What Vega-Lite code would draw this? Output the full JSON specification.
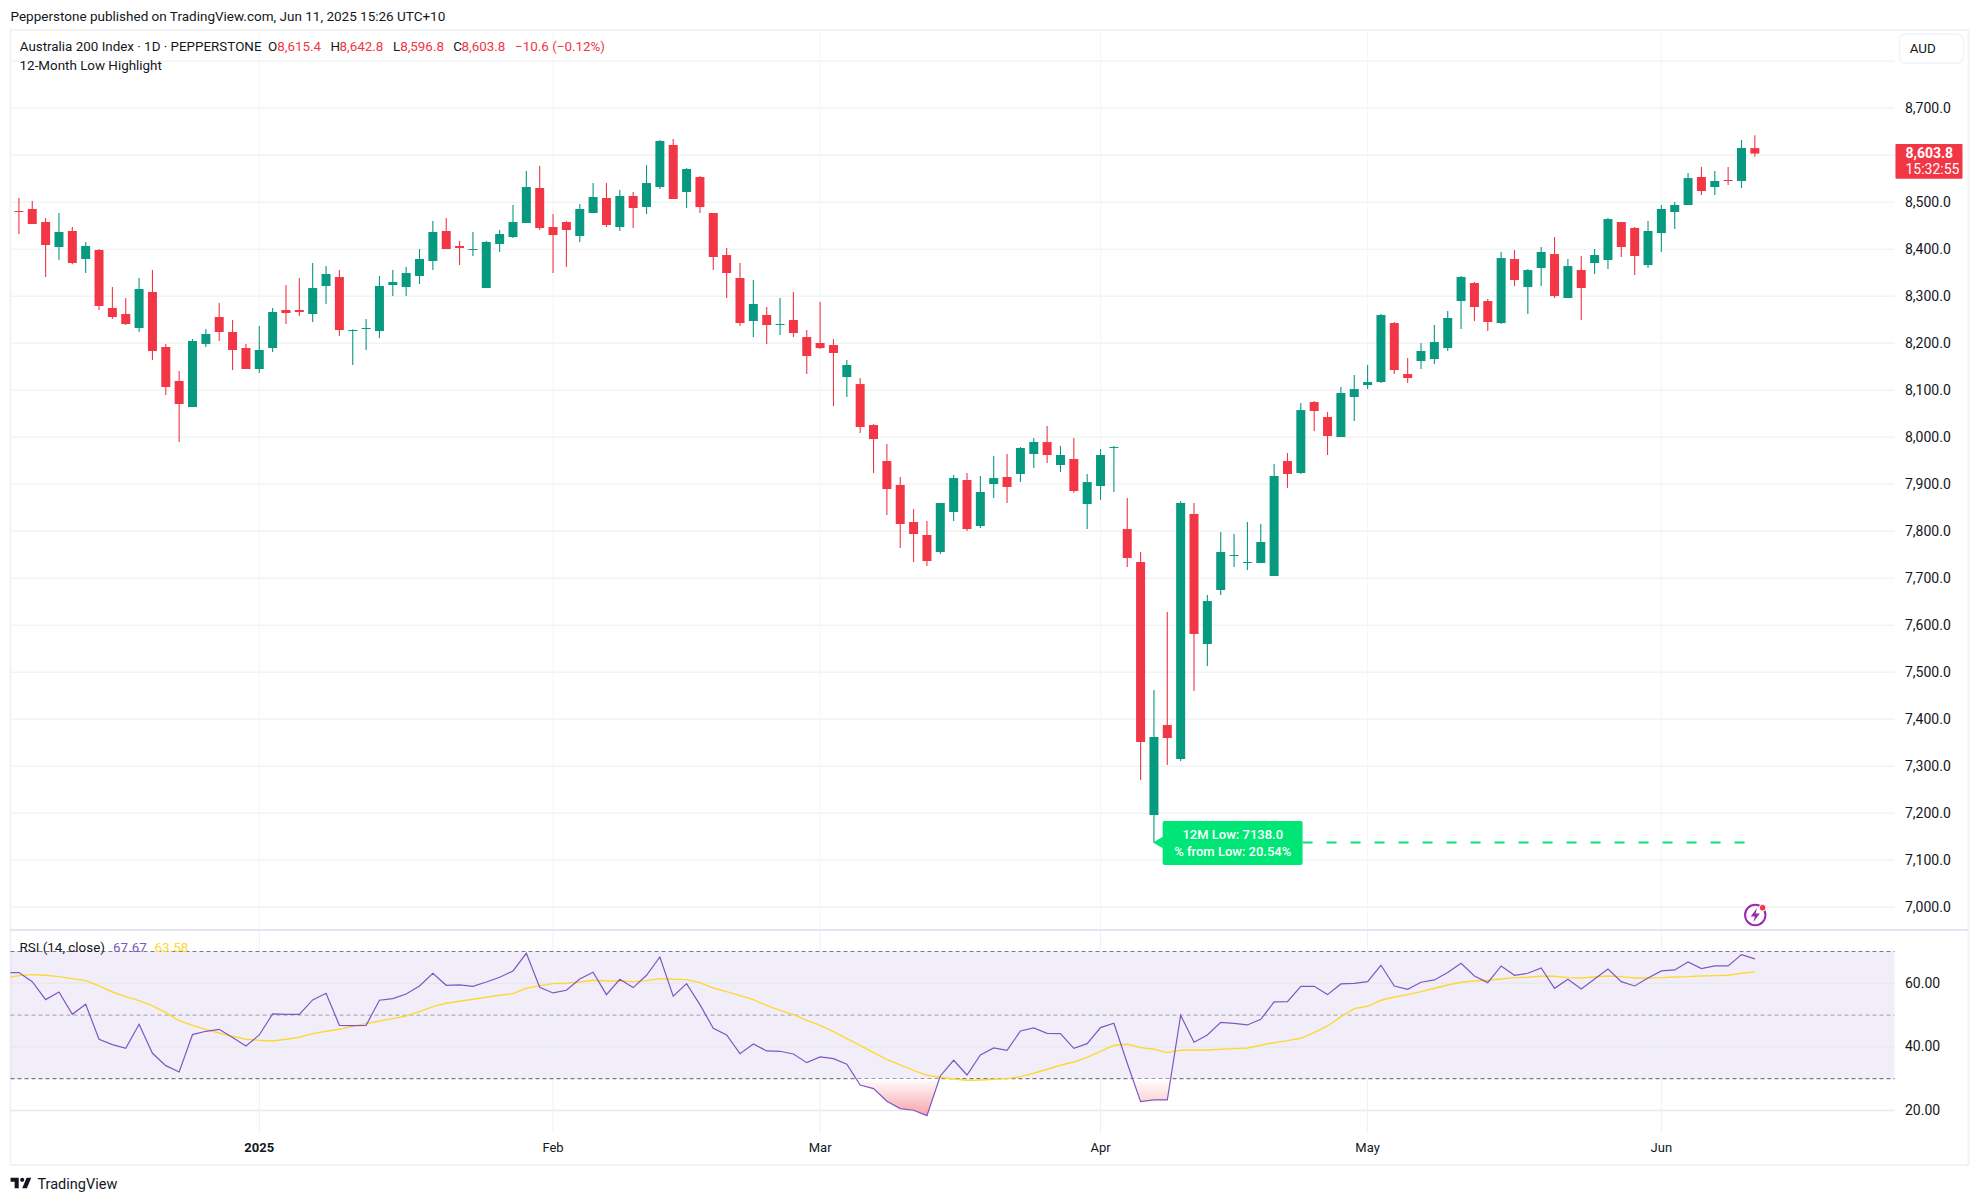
{
  "$schema": "https://vega.github.io/schema/vega-lite/v6.json",
  "background": "#ffffff",
  "padding": {"left": 8.5, "top": 9, "right": 0, "bottom": 0},
  "spacing": 0,
  "bounds": "flush",
  "config": {
    "font": "Roboto",
    "view": {"stroke": "#f2f3f5", "strokeWidth": 2},
    "concat": {"spacing": 0}
  },
  "datasets": {
    "months": [
      {"i": 18, "label": "2025"},
      {"i": 40, "label": "Feb"},
      {"i": 60, "label": "Mar"},
      {"i": 81, "label": "Apr"},
      {"i": 101, "label": "May"},
      {"i": 123, "label": "Jun"}
    ],
    "prices": [
      {"i":0,"o":8481.6,"h":8509.2,"l":8432.6,"c":8479.4,"dir":"down"},
      {"i":1,"o":8485.8,"h":8502.8,"l":8453.9,"c":8453.9,"dir":"down"},
      {"i":2,"o":8458.2,"h":8466.7,"l":8341.1,"c":8409.2,"dir":"down"},
      {"i":3,"o":8405,"h":8477.3,"l":8377.3,"c":8436.9,"dir":"up"},
      {"i":4,"o":8439,"h":8447.5,"l":8368.1,"c":8370.9,"dir":"down"},
      {"i":5,"o":8379.4,"h":8415.6,"l":8349.6,"c":8407.1,"dir":"up"},
      {"i":6,"o":8398.6,"h":8400.7,"l":8270.9,"c":8279.4,"dir":"down"},
      {"i":7,"o":8275.2,"h":8319.9,"l":8251.8,"c":8256,"dir":"down"},
      {"i":8,"o":8262.4,"h":8296.5,"l":8239,"c":8241.1,"dir":"down"},
      {"i":9,"o":8232.6,"h":8339,"l":8224.1,"c":8315.6,"dir":"up"},
      {"i":10,"o":8309.2,"h":8356,"l":8164.5,"c":8183.7,"dir":"down"},
      {"i":11,"o":8192.2,"h":8198.6,"l":8090.1,"c":8107.1,"dir":"down"},
      {"i":12,"o":8119.9,"h":8141.1,"l":7990.1,"c":8070.9,"dir":"down"},
      {"i":13,"o":8064.5,"h":8209.2,"l":8064.5,"c":8205,"dir":"up"},
      {"i":14,"o":8198.6,"h":8230.5,"l":8192.2,"c":8219.9,"dir":"up"},
      {"i":15,"o":8256,"h":8285.8,"l":8205,"c":8224.1,"dir":"down"},
      {"i":16,"o":8224.1,"h":8249.6,"l":8143.3,"c":8185.8,"dir":"down"},
      {"i":17,"o":8190.1,"h":8198.6,"l":8145.4,"c":8145.4,"dir":"down"},
      {"i":18,"o":8145.4,"h":8236.9,"l":8136.9,"c":8185.8,"dir":"up"},
      {"i":19,"o":8190.1,"h":8275.2,"l":8181.6,"c":8266.7,"dir":"up"},
      {"i":20,"o":8270.9,"h":8324.1,"l":8241.1,"c":8264.5,"dir":"down"},
      {"i":21,"o":8270.9,"h":8339,"l":8258.2,"c":8266.7,"dir":"down"},
      {"i":22,"o":8262.4,"h":8370.9,"l":8245.4,"c":8317.7,"dir":"up"},
      {"i":23,"o":8322,"h":8364.5,"l":8283.7,"c":8347.5,"dir":"up"},
      {"i":24,"o":8341.1,"h":8356,"l":8215.6,"c":8228.4,"dir":"down"},
      {"i":25,"o":8226.2,"h":8229.8,"l":8153.9,"c":8228.4,"dir":"up"},
      {"i":26,"o":8230.5,"h":8251.8,"l":8185.8,"c":8232.6,"dir":"up"},
      {"i":27,"o":8226.2,"h":8343.3,"l":8211.3,"c":8322,"dir":"up"},
      {"i":28,"o":8324.1,"h":8356,"l":8300.7,"c":8330.5,"dir":"up"},
      {"i":29,"o":8319.9,"h":8362.4,"l":8300.7,"c":8349.6,"dir":"up"},
      {"i":30,"o":8343.3,"h":8400.7,"l":8326.2,"c":8379.4,"dir":"up"},
      {"i":31,"o":8375.2,"h":8460.3,"l":8356,"c":8436.9,"dir":"up"},
      {"i":32,"o":8439,"h":8466.7,"l":8400.7,"c":8400.7,"dir":"down"},
      {"i":33,"o":8407.1,"h":8417.7,"l":8366.7,"c":8402.8,"dir":"down"},
      {"i":34,"o":8398.6,"h":8436.9,"l":8385.8,"c":8400.7,"dir":"up"},
      {"i":35,"o":8317.7,"h":8417.7,"l":8317.7,"c":8415.6,"dir":"up"},
      {"i":36,"o":8411.4,"h":8441.1,"l":8394.3,"c":8432.6,"dir":"up"},
      {"i":37,"o":8426.2,"h":8494.3,"l":8424.1,"c":8458.2,"dir":"up"},
      {"i":38,"o":8456,"h":8566.7,"l":8456,"c":8532.6,"dir":"up"},
      {"i":39,"o":8530.5,"h":8577.3,"l":8441.1,"c":8445.4,"dir":"down"},
      {"i":40,"o":8447.5,"h":8475.2,"l":8349.6,"c":8430.5,"dir":"down"},
      {"i":41,"o":8458.2,"h":8459.6,"l":8362.4,"c":8441.1,"dir":"down"},
      {"i":42,"o":8428.4,"h":8496.5,"l":8415.6,"c":8485.8,"dir":"up"},
      {"i":43,"o":8477.3,"h":8541.1,"l":8477.3,"c":8511.4,"dir":"up"},
      {"i":44,"o":8509.2,"h":8541.1,"l":8447.5,"c":8451.8,"dir":"down"},
      {"i":45,"o":8447.5,"h":8526.2,"l":8439,"c":8513.5,"dir":"up"},
      {"i":46,"o":8513.5,"h":8522,"l":8445.4,"c":8487.9,"dir":"down"},
      {"i":47,"o":8490.1,"h":8579.4,"l":8475.2,"c":8541.1,"dir":"up"},
      {"i":48,"o":8532.6,"h":8632.6,"l":8528.3,"c":8630.5,"dir":"up"},
      {"i":49,"o":8622,"h":8634.7,"l":8507.1,"c":8507.1,"dir":"down"},
      {"i":50,"o":8522,"h":8573,"l":8487.9,"c":8570.9,"dir":"up"},
      {"i":51,"o":8553.9,"h":8556,"l":8477.3,"c":8490,"dir":"down"},
      {"i":52,"o":8477.3,"h":8477.3,"l":8356,"c":8383.7,"dir":"down"},
      {"i":53,"o":8387.9,"h":8402.8,"l":8296.4,"c":8349.6,"dir":"down"},
      {"i":54,"o":8339,"h":8370.9,"l":8236.8,"c":8243.2,"dir":"down"},
      {"i":55,"o":8247.5,"h":8334.7,"l":8213.4,"c":8283.7,"dir":"up"},
      {"i":56,"o":8260.3,"h":8277.3,"l":8198.6,"c":8239,"dir":"down"},
      {"i":57,"o":8239,"h":8296.4,"l":8217.7,"c":8241.1,"dir":"up"},
      {"i":58,"o":8249.6,"h":8309.2,"l":8213.4,"c":8222,"dir":"down"},
      {"i":59,"o":8213.4,"h":8228.3,"l":8134.7,"c":8173,"dir":"down"},
      {"i":60,"o":8200.7,"h":8287.9,"l":8187.9,"c":8190,"dir":"down"},
      {"i":61,"o":8196.4,"h":8209.2,"l":8066.6,"c":8179.4,"dir":"down"},
      {"i":62,"o":8128.3,"h":8164.5,"l":8085.8,"c":8153.9,"dir":"up"},
      {"i":63,"o":8113.4,"h":8126.2,"l":8009.2,"c":8022,"dir":"down"},
      {"i":64,"o":8026.2,"h":8028.3,"l":7924.1,"c":7996.4,"dir":"down"},
      {"i":65,"o":7949.6,"h":7985.8,"l":7834.7,"c":7890,"dir":"down"},
      {"i":66,"o":7898.6,"h":7915.6,"l":7764.5,"c":7815.6,"dir":"down"},
      {"i":67,"o":7819.8,"h":7847.5,"l":7734.7,"c":7794.3,"dir":"down"},
      {"i":68,"o":7792.2,"h":7822,"l":7726.2,"c":7736.8,"dir":"down"},
      {"i":69,"o":7756,"h":7860.3,"l":7751.8,"c":7860.3,"dir":"up"},
      {"i":70,"o":7841.1,"h":7919.8,"l":7822,"c":7913.4,"dir":"up"},
      {"i":71,"o":7909.2,"h":7924.1,"l":7800.7,"c":7804.9,"dir":"down"},
      {"i":72,"o":7811.3,"h":7917.7,"l":7807.1,"c":7883.7,"dir":"up"},
      {"i":73,"o":7900.7,"h":7960.3,"l":7870.9,"c":7913.4,"dir":"up"},
      {"i":74,"o":7915.6,"h":7964.5,"l":7860.3,"c":7894.3,"dir":"down"},
      {"i":75,"o":7922,"h":7979.4,"l":7904.9,"c":7977.3,"dir":"up"},
      {"i":76,"o":7964.5,"h":7998.6,"l":7934.7,"c":7990,"dir":"up"},
      {"i":77,"o":7990,"h":8024.1,"l":7945.4,"c":7962.4,"dir":"down"},
      {"i":78,"o":7941.1,"h":7981.5,"l":7926.2,"c":7962.4,"dir":"up"},
      {"i":79,"o":7953.9,"h":7998.6,"l":7881.5,"c":7885.8,"dir":"down"},
      {"i":80,"o":7858.1,"h":7922,"l":7804.9,"c":7904.9,"dir":"up"},
      {"i":81,"o":7896.4,"h":7975.1,"l":7866.6,"c":7962.4,"dir":"up"},
      {"i":82,"o":7977.3,"h":7981.5,"l":7883.7,"c":7979.4,"dir":"up"},
      {"i":83,"o":7804.9,"h":7870.9,"l":7724.1,"c":7743.2,"dir":"down"},
      {"i":84,"o":7734.7,"h":7756,"l":7270.9,"c":7351.7,"dir":"down"},
      {"i":85,"o":7196.4,"h":7462.4,"l":7138,"c":7362.4,"dir":"up"},
      {"i":86,"o":7387.9,"h":7628.3,"l":7302.8,"c":7360.3,"dir":"down"},
      {"i":87,"o":7315.6,"h":7864.5,"l":7311.3,"c":7860.3,"dir":"up"},
      {"i":88,"o":7836.9,"h":7860.3,"l":7460.3,"c":7581.5,"dir":"down"},
      {"i":89,"o":7560.3,"h":7664.5,"l":7513.4,"c":7651.7,"dir":"up"},
      {"i":90,"o":7675.2,"h":7798.6,"l":7664.5,"c":7756,"dir":"up"},
      {"i":91,"o":7747.5,"h":7794.3,"l":7724.1,"c":7749.6,"dir":"up"},
      {"i":92,"o":7732.6,"h":7819.8,"l":7717.7,"c":7734.7,"dir":"up"},
      {"i":93,"o":7732.6,"h":7815.6,"l":7732.6,"c":7777.3,"dir":"up"},
      {"i":94,"o":7704.9,"h":7943.2,"l":7704.9,"c":7917.7,"dir":"up"},
      {"i":95,"o":7949.6,"h":7966.6,"l":7892.2,"c":7922,"dir":"down"},
      {"i":96,"o":7924.1,"h":8073,"l":7922,"c":8058.1,"dir":"up"},
      {"i":97,"o":8075.1,"h":8077.3,"l":8013.4,"c":8056,"dir":"down"},
      {"i":98,"o":8043.2,"h":8053.9,"l":7962.4,"c":8002.8,"dir":"down"},
      {"i":99,"o":8000.7,"h":8107.1,"l":8000.7,"c":8094.3,"dir":"up"},
      {"i":100,"o":8085.8,"h":8132.6,"l":8034.7,"c":8102.8,"dir":"up"},
      {"i":101,"o":8111.3,"h":8153.9,"l":8102.8,"c":8117.7,"dir":"up"},
      {"i":102,"o":8117.7,"h":8262.4,"l":8115.6,"c":8260.3,"dir":"up"},
      {"i":103,"o":8243.2,"h":8245.4,"l":8134.7,"c":8143.2,"dir":"down"},
      {"i":104,"o":8134.7,"h":8168.8,"l":8115.6,"c":8126.2,"dir":"down"},
      {"i":105,"o":8162.4,"h":8200.7,"l":8145.4,"c":8183.7,"dir":"up"},
      {"i":106,"o":8166.7,"h":8239,"l":8156,"c":8202.8,"dir":"up"},
      {"i":107,"o":8190,"h":8268.8,"l":8183.7,"c":8253.9,"dir":"up"},
      {"i":108,"o":8290,"h":8343.2,"l":8230.5,"c":8341.1,"dir":"up"},
      {"i":109,"o":8328.3,"h":8330.5,"l":8247.5,"c":8277.3,"dir":"down"},
      {"i":110,"o":8290,"h":8294.3,"l":8226.2,"c":8245.4,"dir":"down"},
      {"i":111,"o":8243.2,"h":8394.3,"l":8241.1,"c":8381.5,"dir":"up"},
      {"i":112,"o":8379.4,"h":8398.6,"l":8322,"c":8334.7,"dir":"down"},
      {"i":113,"o":8319.8,"h":8358.1,"l":8262.4,"c":8356,"dir":"up"},
      {"i":114,"o":8360.3,"h":8404.9,"l":8322,"c":8394.3,"dir":"up"},
      {"i":115,"o":8390,"h":8426.2,"l":8296.4,"c":8300.7,"dir":"down"},
      {"i":116,"o":8296.4,"h":8379.4,"l":8296.4,"c":8364.5,"dir":"up"},
      {"i":117,"o":8356,"h":8385.8,"l":8249.6,"c":8317.7,"dir":"down"},
      {"i":118,"o":8370.9,"h":8400.7,"l":8347.5,"c":8387.9,"dir":"up"},
      {"i":119,"o":8377.3,"h":8466.6,"l":8358.1,"c":8464.5,"dir":"up"},
      {"i":120,"o":8458.1,"h":8458.1,"l":8383.7,"c":8404.9,"dir":"down"},
      {"i":121,"o":8445.4,"h":8447.5,"l":8345.4,"c":8385.8,"dir":"down"},
      {"i":122,"o":8366.6,"h":8460.3,"l":8360.3,"c":8439,"dir":"up"},
      {"i":123,"o":8434.7,"h":8494.3,"l":8394.3,"c":8485.8,"dir":"up"},
      {"i":124,"o":8479.4,"h":8500.7,"l":8443.2,"c":8494.3,"dir":"up"},
      {"i":125,"o":8494.3,"h":8562.4,"l":8494.3,"c":8551.7,"dir":"up"},
      {"i":126,"o":8553.9,"h":8575.1,"l":8515.6,"c":8524.1,"dir":"down"},
      {"i":127,"o":8532.6,"h":8566.6,"l":8515.6,"c":8545.4,"dir":"up"},
      {"i":128,"o":8547.5,"h":8575.1,"l":8536.8,"c":8545.4,"dir":"down"},
      {"i":129,"o":8545.4,"h":8632.6,"l":8530.5,"c":8615.6,"dir":"up"},
      {"i":130,"o":8615.4,"h":8642.8,"l":8596.8,"c":8603.8,"dir":"down"}
    ],
    "rsi": [
      {"i":-1,"rsi":63.36,"ma":61.78},{"i":0,"rsi":63.36,"ma":62.41},{"i":1,"rsi":60.52,"ma":62.72},{"i":2,"rsi":54.87,"ma":62.52},
      {"i":3,"rsi":57.27,"ma":62.1},{"i":4,"rsi":50.25,"ma":61.47},{"i":5,"rsi":53.4,"ma":60.84},{"i":6,"rsi":42.39,"ma":59.16},
      {"i":7,"rsi":40.71,"ma":57.27},{"i":8,"rsi":39.56,"ma":55.81},{"i":9,"rsi":47.11,"ma":54.55},{"i":10,"rsi":37.99,"ma":52.87},
      {"i":11,"rsi":34.11,"ma":50.78},{"i":12,"rsi":32.12,"ma":48.26},{"i":13,"rsi":43.86,"ma":46.79},{"i":14,"rsi":44.91,"ma":45.53},
      {"i":15,"rsi":45.53,"ma":44.38},{"i":16,"rsi":42.92,"ma":43.33},{"i":17,"rsi":40.29,"ma":42.39},{"i":18,"rsi":43.75,"ma":42.08},
      {"i":19,"rsi":50.36,"ma":41.87},{"i":20,"rsi":50.25,"ma":42.39},{"i":21,"rsi":50.25,"ma":43.02},{"i":22,"rsi":54.76,"ma":44.17},
      {"i":23,"rsi":56.86,"ma":44.91},{"i":24,"rsi":46.79,"ma":45.53},{"i":25,"rsi":46.69,"ma":46.48},{"i":26,"rsi":46.79,"ma":47.32},
      {"i":27,"rsi":54.66,"ma":48.16},{"i":28,"rsi":55.18,"ma":48.89},{"i":29,"rsi":56.65,"ma":49.73},{"i":30,"rsi":59.16,"ma":51.09},
      {"i":31,"rsi":63.15,"ma":52.66},{"i":32,"rsi":59.37,"ma":53.71},{"i":33,"rsi":59.48,"ma":54.34},{"i":34,"rsi":59.06,"ma":54.97},
      {"i":35,"rsi":60.42,"ma":55.6},{"i":36,"rsi":61.89,"ma":56.23},{"i":37,"rsi":63.88,"ma":56.75},{"i":38,"rsi":69.43,"ma":58.43},
      {"i":39,"rsi":58.74,"ma":59.27},{"i":40,"rsi":56.96,"ma":59.9},{"i":41,"rsi":57.8,"ma":60},{"i":42,"rsi":61.36,"ma":60.42},
      {"i":43,"rsi":63.46,"ma":60.94},{"i":44,"rsi":56.44,"ma":60.73},{"i":45,"rsi":61.26,"ma":60.73},{"i":46,"rsi":58.64,"ma":60.52},
      {"i":47,"rsi":62.52,"ma":60.84},{"i":48,"rsi":68.28,"ma":61.47},{"i":49,"rsi":55.92,"ma":61.26},{"i":50,"rsi":59.9,"ma":61.15},
      {"i":51,"rsi":53.29,"ma":60.21},{"i":52,"rsi":45.85,"ma":58.53},{"i":53,"rsi":43.75,"ma":57.38},{"i":54,"rsi":37.88,"ma":56.12},
      {"i":55,"rsi":40.92,"ma":54.87},{"i":56,"rsi":38.72,"ma":53.08},{"i":57,"rsi":38.62,"ma":51.51},{"i":58,"rsi":37.78,"ma":50.15},
      {"i":59,"rsi":35.05,"ma":48.37},{"i":60,"rsi":36.84,"ma":46.79},{"i":61,"rsi":36.31,"ma":44.8},{"i":62,"rsi":34.53,"ma":42.6},
      {"i":63,"rsi":28.03,"ma":40.5},{"i":64,"rsi":26.88,"ma":38.2},{"i":65,"rsi":22.89,"ma":36.1},{"i":66,"rsi":20.59,"ma":34.32},
      {"i":67,"rsi":20.07,"ma":32.64},{"i":68,"rsi":18.39,"ma":31.07},{"i":69,"rsi":30.86,"ma":30.44},{"i":70,"rsi":35.79,"ma":29.92},
      {"i":71,"rsi":31.17,"ma":29.5},{"i":72,"rsi":37.46,"ma":29.6},{"i":73,"rsi":39.67,"ma":29.81},{"i":74,"rsi":38.93,"ma":30.02},
      {"i":75,"rsi":45.01,"ma":30.65},{"i":76,"rsi":45.95,"ma":31.7},{"i":77,"rsi":44.28,"ma":32.96},{"i":78,"rsi":44.17,"ma":34.22},
      {"i":79,"rsi":39.56,"ma":35.26},{"i":80,"rsi":41.03,"ma":36.73},{"i":81,"rsi":46.06,"ma":38.62},{"i":82,"rsi":47.42,"ma":40.5},
      {"i":83,"rsi":34.84,"ma":40.82},{"i":84,"rsi":22.79,"ma":39.77},{"i":85,"rsi":23.31,"ma":39.25},{"i":86,"rsi":23.31,"ma":38.2},
      {"i":87,"rsi":49.94,"ma":38.93},{"i":88,"rsi":41.45,"ma":39.04},{"i":89,"rsi":43.75,"ma":39.04},{"i":90,"rsi":47.74,"ma":39.25},
      {"i":91,"rsi":47.42,"ma":39.46},{"i":92,"rsi":46.9,"ma":39.67},{"i":93,"rsi":48.68,"ma":40.5},{"i":94,"rsi":54.13,"ma":41.34},
      {"i":95,"rsi":54.23,"ma":41.97},{"i":96,"rsi":59.06,"ma":42.71},{"i":97,"rsi":59.06,"ma":44.49},{"i":98,"rsi":56.44,"ma":46.58},
      {"i":99,"rsi":59.79,"ma":49.52},{"i":100,"rsi":60,"ma":52.03},{"i":101,"rsi":60.52,"ma":52.77},{"i":102,"rsi":65.66,"ma":54.66},
      {"i":103,"rsi":59.16,"ma":55.7},{"i":104,"rsi":58.12,"ma":56.44},{"i":105,"rsi":60.32,"ma":57.38},{"i":106,"rsi":61.05,"ma":58.43},
      {"i":107,"rsi":63.36,"ma":59.48},{"i":108,"rsi":66.29,"ma":60.32},{"i":109,"rsi":62.31,"ma":60.73},{"i":110,"rsi":60.21,"ma":60.94},
      {"i":111,"rsi":65.45,"ma":61.36},{"i":112,"rsi":62.52,"ma":61.78},{"i":113,"rsi":63.15,"ma":61.89},{"i":114,"rsi":64.82,"ma":62.2},
      {"i":115,"rsi":58.43,"ma":62.2},{"i":116,"rsi":61.26,"ma":61.78},{"i":117,"rsi":58.22,"ma":61.68},{"i":118,"rsi":61.36,"ma":61.99},
      {"i":119,"rsi":64.51,"ma":62.31},{"i":120,"rsi":60.52,"ma":62.1},{"i":121,"rsi":59.16,"ma":61.68},{"i":122,"rsi":61.68,"ma":61.68},
      {"i":123,"rsi":63.88,"ma":61.78},{"i":124,"rsi":64.19,"ma":61.99},{"i":125,"rsi":66.71,"ma":62.1},{"i":126,"rsi":64.61,"ma":62.31},
      {"i":127,"rsi":65.45,"ma":62.41},{"i":128,"rsi":65.45,"ma":62.52},{"i":129,"rsi":69.02,"ma":63.15},{"i":130,"rsi":67.67,"ma":63.58}
    ]
  },
  "vconcat": [
    {
      "width": 1958,
      "height": 900,
      "title": {
        "text": "Pepperstone published on TradingView.com, Jun 11, 2025 15:26 UTC+10",
        "anchor": "start",
        "frame": "group",
        "fontSize": 13.5,
        "fontWeight": "normal",
        "color": "#131722",
        "offset": 6
      },
      "layer": [
        {
          "data": {"values": [
            {"price":7000},{"price":7100},{"price":7200},{"price":7300},{"price":7400},{"price":7500},{"price":7600},{"price":7700},{"price":7800},
            {"price":7900},{"price":8000},{"price":8100},{"price":8200},{"price":8300},{"price":8400},{"price":8500},{"price":8600},{"price":8700},{"price":8800}
          ]},
          "mark": {"type": "rule", "color": "#f2f3f5", "strokeWidth": 1.5},
          "encoding": {
            "x": {"datum": -0.63, "type": "quantitative", "scale": {"domain": [-0.63, 146], "nice": false, "zero": false, "padding": 0}, "axis": null},
            "x2": {"datum": 140.46},
            "y": {
              "field": "price",
              "type": "quantitative",
              "scale": {"domain": [6951.8, 8866.7], "nice": false, "zero": false},
              "axis": {
                "orient": "right",
                "title": null,
                "grid": false,
                "domain": false,
                "ticks": false,
                "offset": -64,
                "labelPadding": 0,
                "labelAlign": "left",
                "labelFontSize": 14,
                "labelColor": "#131722",
                "format": ",.1f",
                "values": [7000,7100,7200,7300,7400,7500,7600,7700,7800,7900,8000,8100,8200,8300,8400,8500,8700]
              }
            }
          }
        },
        {
          "data": {"name": "months"},
          "mark": {"type": "rule", "color": "#f4f5f7", "strokeWidth": 1},
          "encoding": {"x": {"field": "i", "type": "quantitative"}}
        },
        {
          "data": {"name": "prices"},
          "mark": {"type": "rule", "strokeWidth": 1.1},
          "encoding": {
            "x": {"field": "i", "type": "quantitative"},
            "y": {"field": "h", "type": "quantitative"},
            "y2": {"field": "l"},
            "color": {"field": "dir", "type": "nominal", "scale": {"domain": ["up", "down"], "range": ["#089981", "#f23645"]}, "legend": null}
          }
        },
        {
          "data": {"name": "prices"},
          "mark": {"type": "bar", "orient": "vertical", "size": 9},
          "encoding": {
            "x": {"field": "i", "type": "quantitative"},
            "y": {"field": "o", "type": "quantitative"},
            "y2": {"field": "c"},
            "color": {"field": "dir", "type": "nominal", "legend": null}
          }
        },
        {
          "data": {"values": [{"from": 96.13, "to": 130, "low": 7138}]},
          "mark": {"type": "rule", "color": "#00e676", "strokeWidth": 2, "strokeDash": [10, 14]},
          "encoding": {
            "x": {"field": "from", "type": "quantitative"},
            "x2": {"field": "to"},
            "y": {"field": "low", "type": "quantitative"}
          }
        },
        {
          "data": {"values": [{"from": 85.65, "to": 96.13, "top": 7183.6, "bottom": 7090}]},
          "mark": {"type": "rect", "color": "#00e676", "cornerRadius": 2},
          "encoding": {
            "x": {"field": "from", "type": "quantitative"},
            "x2": {"field": "to"},
            "y": {"field": "top", "type": "quantitative"},
            "y2": {"field": "bottom"}
          }
        },
        {
          "data": {"values": [{"i": 85.3, "low": 7138}]},
          "mark": {"type": "point", "shape": "triangle-left", "filled": true, "opacity": 1, "color": "#00e676", "size": 130},
          "encoding": {
            "x": {"field": "i", "type": "quantitative"},
            "y": {"field": "low", "type": "quantitative"}
          }
        },
        {
          "data": {"values": [
            {"label": "12M Low: 7138.0", "i": 90.9, "p": 7153.8},
            {"label": "% from Low: 20.54%", "i": 90.9, "p": 7117.7}
          ]},
          "mark": {"type": "text", "color": "#ffffff", "fontSize": 13, "fontWeight": 500, "align": "center", "baseline": "middle"},
          "encoding": {
            "x": {"field": "i", "type": "quantitative"},
            "y": {"field": "p", "type": "quantitative"},
            "text": {"field": "label"}
          }
        },
        {
          "data": {"values": [
            {"label": "Australia 200 Index · 1D · PEPPERSTONE", "i": 0.06, "p": 8829.9, "kind": "dark"},
            {"label": "O", "i": 18.65, "p": 8829.9, "kind": "dark"},
            {"label": "8,615.4", "i": 19.35, "p": 8829.9, "kind": "red"},
            {"label": "H", "i": 23.34, "p": 8829.9, "kind": "dark"},
            {"label": "8,642.8", "i": 24.01, "p": 8829.9, "kind": "red"},
            {"label": "L", "i": 28.02, "p": 8829.9, "kind": "dark"},
            {"label": "8,596.8", "i": 28.55, "p": 8829.9, "kind": "red"},
            {"label": "C", "i": 32.52, "p": 8829.9, "kind": "dark"},
            {"label": "8,603.8", "i": 33.15, "p": 8829.9, "kind": "red"},
            {"label": "−10.6 (−0.12%)", "i": 37.16, "p": 8829.9, "kind": "red"},
            {"label": "12-Month Low Highlight", "i": 0.05, "p": 8790, "kind": "dark"},
            {"label": "AUD", "i": 141.6, "p": 8826.2, "kind": "dark"}
          ]},
          "mark": {"type": "text", "fontSize": 13.4, "align": "left", "baseline": "middle"},
          "encoding": {
            "x": {"field": "i", "type": "quantitative"},
            "y": {"field": "p", "type": "quantitative"},
            "text": {"field": "label"},
            "color": {"condition": {"test": "datum.kind == 'red'", "value": "#f23645"}, "value": "#131722"}
          }
        },
        {
          "data": {"values": [{"from": 140.84, "to": 145.63, "top": 8858.1, "bottom": 8796.4}]},
          "mark": {"type": "rect", "fill": null, "stroke": "#f0f3fa", "strokeWidth": 1.5, "cornerRadius": 6},
          "encoding": {
            "x": {"field": "from", "type": "quantitative"},
            "x2": {"field": "to"},
            "y": {"field": "top", "type": "quantitative"},
            "y2": {"field": "bottom"}
          }
        },
        {
          "data": {"values": [{"from": 140.53, "to": 145.55, "top": 8624.1, "bottom": 8550.3}]},
          "mark": {"type": "rect", "color": "#f23645", "cornerRadius": 1},
          "encoding": {
            "x": {"field": "from", "type": "quantitative"},
            "x2": {"field": "to"},
            "y": {"field": "top", "type": "quantitative"},
            "y2": {"field": "bottom"}
          }
        },
        {
          "data": {"values": [{"label": "8,603.8", "i": 141.28, "p": 8602}]},
          "mark": {"type": "text", "color": "#ffffff", "fontSize": 14, "fontWeight": "bold", "align": "left", "baseline": "middle"},
          "encoding": {
            "x": {"field": "i", "type": "quantitative"},
            "y": {"field": "p", "type": "quantitative"},
            "text": {"field": "label"}
          }
        },
        {
          "data": {"values": [{"label": "15:32:55", "i": 141.28, "p": 8568}]},
          "mark": {"type": "text", "color": "#ffffff", "fontSize": 14, "align": "left", "baseline": "middle"},
          "encoding": {
            "x": {"field": "i", "type": "quantitative"},
            "y": {"field": "p", "type": "quantitative"},
            "text": {"field": "label"}
          }
        },
        {
          "data": {"values": [{"i": 130.03, "p": 6983.7}]},
          "mark": {"type": "point", "shape": "circle", "filled": false, "opacity": 1, "stroke": "#9c27b0", "strokeWidth": 2, "size": 415},
          "encoding": {
            "x": {"field": "i", "type": "quantitative"},
            "y": {"field": "p", "type": "quantitative"}
          }
        },
        {
          "data": {"values": [{"i": 130.03, "p": 6983.7}]},
          "mark": {"type": "point", "shape": "M0.25 -1 L-0.65 0.2 H-0.05 L-0.25 1 L0.65 -0.2 H0.05 Z", "filled": true, "opacity": 1, "color": "#9c27b0", "size": 196},
          "encoding": {
            "x": {"field": "i", "type": "quantitative"},
            "y": {"field": "p", "type": "quantitative"}
          }
        },
        {
          "data": {"values": [{"i": 130.58, "p": 6999.2}]},
          "mark": {"type": "point", "shape": "circle", "filled": true, "opacity": 1, "fill": "#f23645", "stroke": "#ffffff", "strokeWidth": 1, "size": 45},
          "encoding": {
            "x": {"field": "i", "type": "quantitative"},
            "y": {"field": "p", "type": "quantitative"}
          }
        }
      ]
    },
    {
      "width": 1958,
      "height": 235,
      "layer": [
        {
          "data": {"values": [{"from": -0.63, "to": 140.46, "top": 70, "bottom": 30}]},
          "mark": {"type": "rect", "color": "#7e57c2", "opacity": 0.1},
          "encoding": {
            "x": {"field": "from", "type": "quantitative", "scale": {"domain": [-0.63, 146], "nice": false, "zero": false}, "axis": null},
            "x2": {"field": "to"},
            "y": {"field": "top", "type": "quantitative", "scale": {"domain": [2.86, 76.76], "nice": false, "zero": false},
              "axis": {
                "orient": "right",
                "title": null,
                "grid": false,
                "domain": false,
                "ticks": false,
                "offset": -64,
                "labelPadding": 0,
                "labelAlign": "left",
                "labelFontSize": 14,
                "labelColor": "#131722",
                "format": ".2f",
                "values": [20, 40, 60]
              }
            },
            "y2": {"field": "bottom"}
          }
        },
        {
          "data": {"values": [{"level": 60}, {"level": 40}, {"level": 20}]},
          "mark": {"type": "rule", "color": "#e9e8ee", "strokeWidth": 1.5},
          "encoding": {
            "x": {"datum": -0.63, "type": "quantitative"},
            "x2": {"datum": 140.46},
            "y": {"field": "level", "type": "quantitative"}
          }
        },
        {
          "data": {"name": "months"},
          "mark": {"type": "rule", "color": "#f0f0f4", "strokeWidth": 1},
          "encoding": {
            "x": {"field": "i", "type": "quantitative"},
            "y": {"datum": 76.76, "type": "quantitative"},
            "y2": {"datum": 12.9}
          }
        },
        {
          "data": {"values": [{"level": 70}, {"level": 30}]},
          "mark": {"type": "rule", "color": "#787b86", "strokeWidth": 1.2, "strokeDash": [4, 3]},
          "encoding": {
            "x": {"datum": -0.63, "type": "quantitative"},
            "x2": {"datum": 140.46},
            "y": {"field": "level", "type": "quantitative"}
          }
        },
        {
          "data": {"values": [{"level": 50}]},
          "mark": {"type": "rule", "color": "#787b86", "opacity": 0.55, "strokeWidth": 1.2, "strokeDash": [4, 3]},
          "encoding": {
            "x": {"datum": -0.63, "type": "quantitative"},
            "x2": {"datum": 140.46},
            "y": {"field": "level", "type": "quantitative"}
          }
        },
        {
          "data": {"values": [
            {"i":62.7,"rsi":30},{"i":63,"rsi":28.03},{"i":64,"rsi":26.88},{"i":65,"rsi":22.89},
            {"i":66,"rsi":20.59},{"i":67,"rsi":20.07},{"i":68,"rsi":18.39},{"i":68.93,"rsi":30}
          ]},
          "mark": {"type": "area", "color": {"gradient": "linear", "x1": 0, "y1": 0, "x2": 0, "y2": 1, "stops": [{"offset": 0, "color": "#ffffff"}, {"offset": 1, "color": "#f8a3aa"}]}},
          "encoding": {
            "x": {"field": "i", "type": "quantitative"},
            "y": {"field": "rsi", "type": "quantitative"},
            "y2": {"datum": 30}
          }
        },
        {
          "data": {"values": [
            {"i":83.4,"rsi":30},{"i":84,"rsi":22.79},{"i":85,"rsi":23.31},{"i":86,"rsi":23.31},{"i":86.25,"rsi":30}
          ]},
          "mark": {"type": "area", "color": {"gradient": "linear", "x1": 0, "y1": 0, "x2": 0, "y2": 1, "stops": [{"offset": 0, "color": "#ffffff"}, {"offset": 1, "color": "#fcd3d7"}]}},
          "encoding": {
            "x": {"field": "i", "type": "quantitative"},
            "y": {"field": "rsi", "type": "quantitative"},
            "y2": {"datum": 30}
          }
        },
        {
          "data": {"name": "rsi"},
          "mark": {"type": "line", "color": "#fdd835", "strokeWidth": 1.4, "clip": true},
          "encoding": {
            "x": {"field": "i", "type": "quantitative"},
            "y": {"field": "ma", "type": "quantitative"}
          }
        },
        {
          "data": {"name": "rsi"},
          "mark": {"type": "line", "color": "#7e57c2", "strokeWidth": 1.2, "clip": true},
          "encoding": {
            "x": {"field": "i", "type": "quantitative"},
            "y": {"field": "rsi", "type": "quantitative"}
          }
        },
        {
          "data": {"values": [
            {"label": "RSI (14, close)", "i": 0.05, "v": 71, "kind": "dark"},
            {"label": "67.67", "i": 7.05, "v": 71, "kind": "rsi"},
            {"label": "63.58", "i": 10.16, "v": 71, "kind": "ma"}
          ]},
          "mark": {"type": "text", "fontSize": 13.4, "align": "left", "baseline": "middle"},
          "encoding": {
            "x": {"field": "i", "type": "quantitative"},
            "y": {"field": "v", "type": "quantitative"},
            "text": {"field": "label"},
            "color": {"condition": [{"test": "datum.kind == 'rsi'", "value": "#7e57c2"}, {"test": "datum.kind == 'ma'", "value": "#fdd835"}], "value": "#131722"}
          }
        },
        {
          "data": {"name": "months"},
          "transform": [{"filter": "datum.label != '2025'"}],
          "mark": {"type": "text", "color": "#131722", "fontSize": 13, "align": "center", "baseline": "middle"},
          "encoding": {
            "x": {"field": "i", "type": "quantitative"},
            "y": {"datum": 8.3, "type": "quantitative"},
            "text": {"field": "label"}
          }
        },
        {
          "data": {"name": "months"},
          "transform": [{"filter": "datum.label == '2025'"}],
          "mark": {"type": "text", "color": "#131722", "fontSize": 13, "fontWeight": "bold", "align": "center", "baseline": "middle"},
          "encoding": {
            "x": {"field": "i", "type": "quantitative"},
            "y": {"datum": 8.3, "type": "quantitative"},
            "text": {"field": "label"}
          }
        },
        {
          "data": {"values": [{"level": 76.76}]},
          "mark": {"type": "rule", "color": "#e6e4f1", "strokeWidth": 2},
          "encoding": {
            "y": {"field": "level", "type": "quantitative"}
          }
        }
      ]
    },
    {
      "width": 1958,
      "height": 39,
      "view": {"stroke": null},
      "layer": [
        {
          "data": {"values": [{"i": 0.16, "pos": 18}]},
          "mark": {
            "type": "point",
            "shape": "M-0.222 0.5 H-0.611 V-0.111 H-1 V-0.5 H-0.222 Z M0.556 0.5 H0.111 L0.528 -0.5 H0.972 Z M-0.083 -0.306 a0.194 0.194 0 1 0 0.388 0 a0.194 0.194 0 1 0 -0.388 0 Z",
            "filled": true,
            "opacity": 1,
            "color": "#131722",
            "size": 441
          },
          "encoding": {
            "x": {"field": "i", "type": "quantitative", "scale": {"domain": [-0.63, 146], "nice": false, "zero": false}, "axis": null},
            "y": {"field": "pos", "type": "quantitative", "scale": {"domain": [39, 0], "nice": false, "zero": false}, "axis": null}
          }
        },
        {
          "data": {"values": [{"label": "TradingView", "i": 1.39, "pos": 20}]},
          "mark": {"type": "text", "color": "#131722", "fontSize": 14.5, "align": "left", "baseline": "middle"},
          "encoding": {
            "x": {"field": "i", "type": "quantitative"},
            "y": {"field": "pos", "type": "quantitative"},
            "text": {"field": "label"}
          }
        }
      ]
    }
  ]
}
